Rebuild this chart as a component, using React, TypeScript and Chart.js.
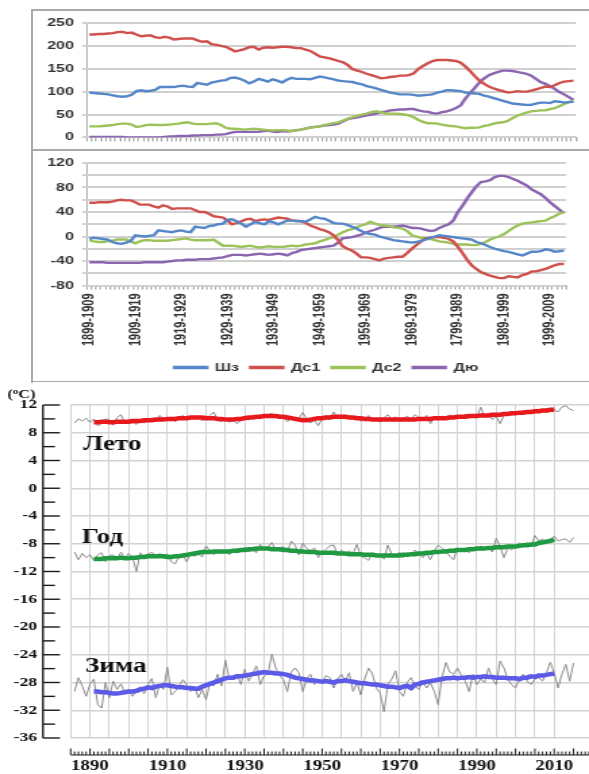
import React, { useEffect, useRef } from 'react';
import { Chart, registerables } from 'chart.js';

Chart.register(...registerables);

// ---------- Upper panels (categories / series) ----------
const CATEGORIES: string[] = Array.from({ length: 104 }, (_, i) => `${1899 + i}-${1909 + i}`);
const TICK_LABELS = ['1899-1909', '1909-1919', '1919-1929', '1929-1939', '1939-1949', '1949-1959', '1959-1969', '1969-1979', '1799-1989', '1989-1999', '1999-2009'];
const SERIES_NAMES = ['Шз', 'Дс1', 'Дс2', 'Дю'];

const TOP_SHZ = [98, 97, 96, 95, 94, 92, 90, 89, 90, 93,
  101, 103, 101, 102, 104, 110, 110, 110, 110, 112,
  113, 111, 110, 119, 117, 115, 120, 122, 124, 125,
  130, 131, 128, 124, 118, 122, 128, 125, 122, 127,
  124, 120, 126, 130, 128, 128, 128, 127, 130, 133,
  131, 129, 127, 124, 123, 122, 121, 118, 116, 112,
  110, 107, 104, 101, 98, 96, 94, 94, 94, 93,
  91, 92, 93, 94, 98, 100, 103, 103, 102, 101,
  98, 97, 96, 95, 91, 89, 86, 83, 80, 77,
  74, 73, 72, 71, 71, 74, 76, 76, 75, 79,
  78, 76, 77, 78];
const TOP_DS1 = [225, 225, 226, 226, 227, 228, 230, 231, 228, 229,
  225, 221, 222, 223, 219, 217, 220, 218, 214, 215,
  216, 216, 216, 212, 209, 210, 204, 202, 200, 198,
  193, 188, 190, 193, 197, 198, 192, 196, 197, 196,
  197, 198, 198, 197, 195, 195, 192, 189, 183, 177,
  175, 173, 170, 167, 164, 158, 149, 146, 143, 139,
  136, 133, 129, 130, 132, 133, 135, 135, 136, 140,
  150, 156, 162, 167, 169, 169, 169, 168, 167, 163,
  155, 145, 134, 124, 117, 111, 107, 104, 101, 98,
  99, 101, 100, 100, 102, 105, 108, 111, 110, 114,
  119, 122, 123, 124];
const TOP_DS2 = [24, 24, 24, 25, 26, 27, 29, 30, 30, 28,
  23, 24, 27, 28, 27, 27, 27, 28, 29, 30,
  32, 33, 30, 29, 29, 29, 30, 31, 27, 21,
  19, 19, 18, 17, 18, 19, 18, 17, 16, 15,
  16, 16, 15, 14, 15, 17, 19, 21, 23, 24,
  27, 29, 31, 33, 37, 41, 44, 47, 50, 52,
  55, 57, 55, 52, 52, 52, 51, 50, 48, 44,
  38, 34, 31, 31, 30, 28, 26, 25, 24, 22,
  20, 21, 21, 22, 25, 27, 30, 32, 33, 36,
  42, 47, 51, 54, 57, 58, 59, 59, 62, 64,
  68, 73, 77, 80];
const TOP_DYU = [1, 1, 1, 1, 1, 1, 1, 1, 0, 0,
  0, 0, 0, 0, 0, 0, 1, 2, 2, 3,
  3, 3, 4, 4, 5, 5, 5, 6, 6, 7,
  10, 12, 12, 12, 12, 12, 12, 14, 15, 13,
  12, 14, 13, 14, 16, 17, 19, 22, 23, 24,
  26, 27, 28, 30, 35, 40, 42, 44, 46, 48,
  50, 52, 55, 56, 59, 60, 61, 61, 62, 62,
  59, 57, 56, 53, 52, 55, 57, 60, 64, 70,
  85, 97, 108, 120, 129, 136, 140, 143, 146, 146,
  145, 143, 141, 139, 135, 128, 121, 117, 112, 106,
  99, 94, 88, 82];

const MID_SHZ = [-4, -2, -3, -4, -5, -9, -11, -12, -10, -7,
  2, 1, 0, 1, 2, 10, 9, 8, 7, 9,
  10, 8, 7, 16, 15, 14, 17, 18, 20, 21,
  27, 28, 25, 21, 16, 20, 24, 22, 20, 25,
  23, 20, 23, 26, 26, 25, 25, 24, 28, 32,
  30, 29, 26, 22, 21, 21, 19, 16, 13, 9,
  6, 4, 3, 0, -2, -4, -6, -7, -8, -9,
  -10, -9, -7, -5, -2, 0, 2, 1, 0, -1,
  -2, -3, -4, -5, -9, -11, -14, -17, -20, -22,
  -24, -25, -27, -29, -31, -28, -25, -25, -24, -21,
  -22, -25, -24, -23];
const MID_DS1 = [55, 55, 56, 56, 56, 57, 59, 60, 59, 59,
  56, 52, 52, 52, 49, 47, 51, 49, 45, 46,
  46, 46, 46, 43, 40, 40, 37, 33, 32, 31,
  26, 20, 22, 25, 28, 29, 25, 27, 28, 27,
  29, 31, 30, 29, 26, 26, 25, 22, 18, 15,
  12, 10, 7, 2, -6, -16, -20, -23, -28, -34,
  -34, -35, -37, -39, -36, -35, -34, -33, -33, -27,
  -20, -14, -8, -3, -2, -1, -1, -2, -4, -8,
  -17, -27, -38, -47, -53, -58, -61, -64, -66, -68,
  -68, -65, -66, -67, -63, -61, -57, -57, -55, -53,
  -50, -47, -45, -45];
const MID_DS2 = [-6, -8, -9, -9, -8, -7, -5, -5, -5, -8,
  -11, -8, -6, -6, -7, -7, -7, -7, -6, -5,
  -4, -3, -5, -6, -6, -6, -6, -5, -10, -15,
  -15, -15, -16, -17, -16, -15, -17, -18, -17, -16,
  -17, -17, -17, -16, -15, -16, -15, -13, -12, -11,
  -8, -6, -3, -1, 3, 7, 10, 12, 15, 18,
  20, 24, 21, 19, 18, 17, 15, 14, 13, 9,
  2, 0, -2, -3, -4, -6, -8, -9, -10, -12,
  -13, -13, -13, -14, -14, -12, -9, -5, -2, 0,
  4, 9, 14, 18, 21, 22, 23, 24, 25, 26,
  30, 33, 37, 40];
const MID_DYU = [-42, -42, -42, -42, -43, -43, -43, -43, -43, -43,
  -43, -43, -42, -42, -42, -42, -42, -41, -40, -39,
  -39, -38, -38, -38, -37, -37, -37, -36, -35, -34,
  -32, -30, -30, -30, -31, -30, -29, -28, -29, -30,
  -29, -28, -29, -31, -27, -25, -22, -21, -20, -19,
  -18, -17, -16, -15, -10, -3, -2, -1, 1, 3,
  6, 9, 11, 14, 16, 16, 16, 17, 18, 16,
  14, 14, 13, 11, 9, 10, 14, 17, 20, 26,
  40, 50, 62, 72, 82, 89, 90, 92, 97, 99,
  99, 97, 94, 91, 87, 83, 77, 73, 69, 63,
  56, 50, 44, 38];

// ---------- Temperature panel ----------
const ANNUAL_START = 1886;
const SMOOTH_START = 1891;
const Y_TICKS = [12, 8, 4, 0, -4, -8, -12, -16, -20, -24, -28, -32, -36];
const X_LABEL_YEARS = [1890, 1910, 1930, 1950, 1970, 1990, 2010];
const SEASON_NAMES = ['Лето', 'Год', 'Зима'];

const SUMMER_ANNUAL = [9.4, 10.0, 9.7, 10.1, 9.5, 10.0, 9.0, 9.3, 10.0, 9.9,
  9.1, 10.2, 10.6, 9.4, 9.8, 9.5, 9.2, 9.8, 9.4, 9.7,
  10.1, 9.6, 10.5, 10.0, 9.8, 10.3, 9.6, 10.2, 10.5, 9.9,
  10.1, 10.4, 10.2, 9.7, 10.0, 10.5, 11.0, 9.8, 9.6, 10.0,
  9.5, 9.9, 9.3, 9.9, 10.3, 9.8, 10.5, 10.2, 10.5, 10.3,
  10.6, 10.8, 10.2, 10.5, 10.1, 9.6, 10.2, 9.8, 10.1, 10.9,
  10.0, 9.4, 9.8, 9.0, 10.0, 10.5, 9.9, 11.0, 10.3, 10.1,
  10.6, 10.0, 10.2, 10.4, 9.6, 10.0, 10.5, 9.7, 10.0, 9.5,
  10.2, 10.6, 9.9, 10.3, 9.8, 10.1, 10.4, 9.9, 10.6, 10.2,
  9.8, 10.5, 9.3, 10.3, 10.0, 10.4, 10.0, 10.6, 10.2, 10.5,
  10.0, 10.7, 10.1, 10.6, 10.3, 11.7, 10.2, 10.8, 9.9, 10.4,
  9.3, 10.5, 10.9, 10.6, 11.0, 10.6, 11.2, 10.7, 11.0, 11.3,
  10.8, 11.4, 10.9, 11.2, 11.3, 11.0, 11.7, 11.9, 11.4, 11.2];
const SUMMER_SMOOTH = [9.5, 9.5, 9.6, 9.6, 9.5, 9.5, 9.6, 9.6, 9.6, 9.6,
  9.7, 9.7, 9.7, 9.8, 9.8, 9.8, 9.9, 9.9, 9.9, 10.0,
  10.0, 10.0, 10.1, 10.1, 10.1, 10.2, 10.2, 10.2, 10.2, 10.1,
  10.1, 10.1, 10.0, 10.0, 9.9, 9.9, 9.9, 10.0, 10.0, 10.1,
  10.2, 10.2, 10.3, 10.3, 10.4, 10.4, 10.4, 10.4, 10.3, 10.3,
  10.2, 10.1, 10.0, 9.9, 9.8, 9.8, 9.9, 10.0, 10.1, 10.1,
  10.2, 10.2, 10.3, 10.3, 10.3, 10.3, 10.2, 10.2, 10.1, 10.1,
  10.0, 10.0, 9.9, 9.9, 9.9, 9.9, 9.9, 9.9, 9.9, 9.9,
  9.9, 9.9, 9.9, 9.9, 10.0, 10.0, 10.0, 10.0, 10.1, 10.1,
  10.1, 10.1, 10.2, 10.2, 10.3, 10.3, 10.3, 10.4, 10.4, 10.4,
  10.5, 10.5, 10.5, 10.6, 10.6, 10.6, 10.7, 10.7, 10.8, 10.8,
  10.9, 10.9, 11.0, 11.0, 11.1, 11.1, 11.2, 11.2, 11.3, 11.3];

const YEAR_ANNUAL = [-9.2, -10.3, -9.4, -10.0, -9.6, -10.4, -9.6, -9.3, -10.6, -9.7,
  -9.6, -10.2, -9.2, -10.1, -9.4, -10.0, -12.0, -9.3, -9.9, -9.5,
  -9.2, -9.8, -9.4, -9.7, -9.5, -10.6, -10.9, -9.8, -9.6, -10.6,
  -9.4, -9.8, -9.5, -9.9, -8.3, -9.0, -9.6, -9.1, -9.4, -8.9,
  -9.6, -9.0, -9.3, -9.1, -8.5, -9.2, -8.7, -9.3, -8.1, -8.8,
  -8.5, -7.8, -9.0, -8.6, -8.4, -9.2, -7.6, -8.2, -9.6, -7.9,
  -8.7, -9.0, -8.6, -10.0, -9.2, -8.8, -8.3, -8.2, -9.5, -8.9,
  -9.6, -9.0, -9.4, -8.1, -9.8, -10.0, -10.4, -9.3, -9.6, -9.8,
  -10.2, -8.2, -9.5, -9.8, -9.2, -10.0, -9.3, -9.6, -8.9, -9.5,
  -10.0, -9.4, -10.3, -9.0, -8.2, -8.6, -9.1, -9.8, -10.3, -8.6,
  -9.0, -8.7, -9.3, -8.6, -9.0, -8.3, -8.9, -8.5, -9.2, -7.2,
  -8.4, -10.0, -8.6, -8.9, -8.3, -7.9, -8.2, -7.8, -8.4, -6.8,
  -7.6, -7.3, -7.9, -7.4, -6.9, -7.6, -7.4, -7.3, -7.8, -7.1];
const YEAR_SMOOTH = [-10.2, -10.2, -10.2, -10.1, -10.1, -10.1, -10.1, -10.0, -10.1, -10.1,
  -10.0, -10.0, -9.9, -9.9, -9.8, -9.8, -9.8, -9.8, -9.8, -9.9,
  -9.9, -9.8, -9.8, -9.7, -9.6, -9.5, -9.4, -9.3, -9.2, -9.2,
  -9.2, -9.1, -9.1, -9.1, -9.1, -9.1, -9.0, -9.0, -8.9, -8.9,
  -8.8, -8.8, -8.7, -8.7, -8.7, -8.7, -8.8, -8.8, -8.8, -8.9,
  -8.9, -9.0, -9.0, -9.1, -9.1, -9.2, -9.2, -9.2, -9.3, -9.3,
  -9.3, -9.3, -9.3, -9.4, -9.4, -9.4, -9.5, -9.5, -9.5, -9.5,
  -9.6, -9.6, -9.6, -9.7, -9.7, -9.7, -9.7, -9.7, -9.7, -9.7,
  -9.6, -9.6, -9.5, -9.5, -9.4, -9.4, -9.3, -9.3, -9.2, -9.2,
  -9.1, -9.1, -9.0, -9.0, -8.9, -8.9, -8.9, -8.8, -8.8, -8.7,
  -8.7, -8.7, -8.6, -8.6, -8.5, -8.5, -8.5, -8.4, -8.4, -8.4,
  -8.3, -8.2, -8.2, -8.1, -8.1, -7.9, -7.8, -7.7, -7.6, -7.4];

const WINTER_ANNUAL = [-29.3, -27.3, -28.5, -30.0, -28.2, -27.5, -31.2, -31.7, -28.0, -30.2,
  -27.8, -29.0, -28.2, -29.5, -29.0, -30.0, -29.2, -28.6, -29.6, -28.3,
  -27.4, -30.2, -28.3, -29.0, -25.8, -29.8, -29.3, -28.5, -27.6, -28.3,
  -29.3, -28.5, -30.2, -29.0, -30.5, -28.0, -28.5, -26.8, -28.5, -24.8,
  -27.6, -27.2, -26.8, -28.3, -26.1, -27.8, -26.8, -25.6, -28.3, -27.0,
  -26.8, -23.9, -25.9, -27.0, -27.6, -29.3, -26.5, -25.9, -26.6, -29.3,
  -27.5, -26.8, -28.3, -27.6, -28.0, -27.0, -27.3, -28.8, -27.5, -26.8,
  -27.8, -26.6, -29.3, -28.0, -29.8, -27.5, -25.9, -26.8, -28.8, -29.5,
  -32.2, -28.3, -27.5, -26.3, -29.3, -30.0, -28.0, -27.3, -28.5, -29.0,
  -27.8, -28.8, -28.0, -29.3, -31.2, -27.3, -25.1, -26.5, -26.8, -25.9,
  -27.0, -27.8, -29.3, -26.8, -28.3, -27.5, -28.0, -25.9, -27.5, -28.3,
  -24.9, -25.9, -27.5, -28.3, -28.8, -27.5, -26.8, -27.8, -28.3, -27.5,
  -27.3, -27.8, -26.6, -25.1, -26.6, -28.8, -26.8, -25.4, -27.8, -25.2];
const WINTER_SMOOTH = [-29.3, -29.3, -29.4, -29.4, -29.5, -29.6, -29.6, -29.5, -29.4, -29.3,
  -29.3, -29.2, -29.0, -28.9, -28.7, -28.8, -28.6, -28.5, -28.4, -28.4,
  -28.5, -28.6, -28.7, -28.7, -28.8, -28.8, -28.9, -28.9, -28.6, -28.4,
  -28.2, -28.0, -27.8, -27.6, -27.4, -27.3, -27.3, -27.1, -27.1, -27.0,
  -26.9, -26.8, -26.7, -26.6, -26.5, -26.6, -26.6, -26.7, -26.7, -26.8,
  -26.9, -27.1, -27.3, -27.4, -27.5, -27.6, -27.7, -27.7, -27.8, -27.9,
  -27.8, -27.9, -28.0, -27.8, -27.8, -27.7, -27.8, -27.9, -28.0, -28.1,
  -28.1, -28.2, -28.3, -28.3, -28.4, -28.5, -28.6, -28.6, -28.7, -28.8,
  -28.6, -28.5, -28.8, -28.3, -28.2, -28.0, -27.9, -27.8, -27.7, -27.6,
  -27.5, -27.4, -27.4, -27.3, -27.4, -27.3, -27.3, -27.2, -27.3, -27.2,
  -27.2, -27.1, -27.2, -27.2, -27.3, -27.3, -27.3, -27.4, -27.4, -27.4,
  -27.5, -27.3, -27.3, -27.1, -27.2, -27.0, -27.0, -26.9, -26.8, -26.7];

// ---------- Styling ----------
const SANS = "'Liberation Sans', Arial, sans-serif";
const SERIF = "'Liberation Serif', 'Times New Roman', serif";
const PAGE_W = 589;
const SERIES_COLORS = ['#5587c8', '#cf504c', '#9dc25a', '#8a65b0'];
const SEASON_COLORS = ['#e8191c', '#1f9a42', '#5b5be8'];
const ANNUAL_COLOR = '#8c8c8c';
const GRID_COLOR = '#d0d0d0';
const LABEL_ANCHORS = [{ x: 1888.2, y: 5.5 }, { x: 1887.9, y: -7.9 }, { x: 1888.7, y: -26.5 }];

function lineDs(label: string, data: any[], color: string, width: number) {
  return {
    label, data, borderColor: color, backgroundColor: color, borderWidth: width,
    pointRadius: 0, pointHoverRadius: 0, tension: 0, fill: false,
  };
}

const axisFont = { family: SANS, size: 11, weight: 'bold' as const };

function panelDatasets(sets: number[][]) {
  return sets.map((d, i) => lineDs(SERIES_NAMES[i], d, SERIES_COLORS[i], 2.4));
}

// Horizontal value grid for the upper panels, drawn from the y scale's own ticks
const valueGridPlugin = {
  id: 'valueGrid',
  beforeDatasetsDraw(chart: any) {
    const { ctx, chartArea } = chart;
    const ys = chart.scales.y;
    ctx.save();
    ctx.strokeStyle = GRID_COLOR;
    ctx.lineWidth = 2;
    ys.ticks.forEach((t: any) => {
      const py = Math.round(ys.getPixelForValue(t.value));
      ctx.beginPath();
      ctx.moveTo(chartArea.left - 3, py);
      ctx.lineTo(chartArea.right, py);
      ctx.stroke();
    });
    ctx.restore();
  },
};

function topConfig(): any {
  return {
    type: 'line',
    data: { labels: CATEGORIES, datasets: panelDatasets([TOP_SHZ, TOP_DS1, TOP_DS2, TOP_DYU]) },
    options: {
      responsive: false, animation: false, devicePixelRatio: 1, events: [],
      layout: { padding: { left: 0, right: 9, top: 23, bottom: 0 } },
      plugins: { legend: { display: false }, tooltip: { enabled: false } },
      scales: {
        x: {
          type: 'category', offset: true,
          grid: { drawOnChartArea: false, drawTicks: true, tickLength: 4, color: '#a6a6a6', offset: true },
          border: { color: '#a6a6a6' },
          ticks: { display: false, autoSkip: false },
          afterFit: (s: any) => { s.height = 8; },
        },
        y: {
          type: 'linear', min: 0, max: 250,
          ticks: { stepSize: 50, autoSkip: false, font: axisFont, color: '#333', padding: 6 },
          grid: { display: true, drawOnChartArea: false, color: GRID_COLOR, lineWidth: 1, tickLength: 3 },
          border: { color: '#b0b0b0' },
          afterFit: (s: any) => { s.width = 59.5; },
        },
      },
    },
    plugins: [valueGridPlugin],
  };
}

function midConfig(): any {
  return {
    type: 'line',
    data: { labels: CATEGORIES, datasets: panelDatasets([MID_SHZ, MID_DS1, MID_DS2, MID_DYU]) },
    options: {
      responsive: false, animation: false, devicePixelRatio: 1, events: [],
      layout: { padding: { left: 0, right: 9, top: 13, bottom: 0 } },
      plugins: {
        tooltip: { enabled: false },
        legend: {
          display: true, position: 'bottom', align: 'center', fullSize: false,
          labels: { boxWidth: 22, boxHeight: 1, padding: 8, font: axisFont, color: '#333' },
        },
      },
      scales: {
        x: {
          type: 'category', offset: true,
          grid: { drawOnChartArea: false, drawTicks: true, tickLength: 4, color: '#a6a6a6', offset: true },
          border: { color: '#a6a6a6' },
          ticks: {
            autoSkip: false, maxRotation: 90, minRotation: 90, padding: 4, font: axisFont, color: '#333',
            callback: (_v: any, i: number) => (i % 10 === 0 && TICK_LABELS[i / 10] ? TICK_LABELS[i / 10] : ''),
          },
          afterFit: (s: any) => { s.height = 68.5; },
        },
        y: {
          type: 'linear', min: -80, max: 120,
          ticks: {
            stepSize: 20, autoSkip: false, font: axisFont, color: '#333', padding: 6,
            callback: (v: number) => (Math.round(v) % 40 === 0 ? String(Math.round(v)) : ''),
          },
          grid: { display: true, drawOnChartArea: false, color: GRID_COLOR, lineWidth: 1, tickLength: 3 },
          border: { color: '#b0b0b0' },
          afterFit: (s: any) => { s.width = 59.5; },
        },
      },
    },
    plugins: [valueGridPlugin],
  };
}

const toPoints = (start: number, vals: number[]) => vals.map((v, i) => ({ x: start + i, y: v }));

const tempAxesPlugin = {
  id: 'tempAxes',
  afterDraw(chart: any) {
    const { ctx } = chart;
    const xs = chart.scales.x;
    const ys = chart.scales.y;
    ctx.save();
    ctx.strokeStyle = '#1a1a1a';
    ctx.fillStyle = '#111';
    // left axis
    const axX = 31.8;
    ctx.lineWidth = 1.4;
    ctx.beginPath();
    ctx.moveTo(axX, ys.getPixelForValue(Y_TICKS[0]));
    ctx.lineTo(axX, ys.getPixelForValue(Y_TICKS[Y_TICKS.length - 1]));
    ctx.stroke();
    Y_TICKS.forEach((v, i) => {
      const py = ys.getPixelForValue(v);
      ctx.beginPath(); ctx.moveTo(axX, py); ctx.lineTo(44.4, py); ctx.stroke();
      if (i < Y_TICKS.length - 1) {
        const pm = ys.getPixelForValue((v + Y_TICKS[i + 1]) / 2);
        ctx.beginPath(); ctx.moveTo(axX, pm); ctx.lineTo(40.7, pm); ctx.stroke();
      }
    });
    ctx.font = `bold 13px ${SERIF}`;
    ctx.textAlign = 'right';
    ctx.textBaseline = 'middle';
    Y_TICKS.forEach((v) => ctx.fillText(String(v), 27.4, ys.getPixelForValue(v)));

    // unit label (oC)
    ctx.textAlign = 'left';
    ctx.textBaseline = 'alphabetic';
    let ux = 5.5;
    const uy = 15;
    ctx.font = `bold 12px ${SERIF}`;
    ctx.fillText('(', ux, uy); ux += ctx.measureText('(').width;
    ctx.font = `bold 8px ${SERIF}`;
    ctx.fillText('o', ux, uy - 4); ux += ctx.measureText('o').width;
    ctx.font = `bold 12px ${SERIF}`;
    ctx.fillText('C)', ux, uy);

    // bottom ruler axis
    const ry = chart.height - 19;
    const first = Math.ceil(xs.min);
    const last = Math.floor(xs.max);
    ctx.lineWidth = 1.2;
    ctx.beginPath();
    ctx.moveTo(xs.getPixelForValue(xs.min), ry);
    ctx.lineTo(chart.width, ry);
    ctx.stroke();
    ctx.lineWidth = 1;
    for (let yr = first; yr <= last; yr++) {
      const px = xs.getPixelForValue(yr);
      const len = yr % 5 === 0 ? 6.5 : 3.5;
      ctx.beginPath(); ctx.moveTo(px, ry); ctx.lineTo(px, ry - len); ctx.stroke();
    }
    ctx.font = `bold 14px ${SERIF}`;
    ctx.textAlign = 'center';
    ctx.textBaseline = 'middle';
    X_LABEL_YEARS.forEach((yr) => ctx.fillText(String(yr), xs.getPixelForValue(yr), ry + 11));

    // season names
    ctx.font = `bold 20px ${SERIF}`;
    ctx.textAlign = 'left';
    ctx.textBaseline = 'alphabetic';
    SEASON_NAMES.forEach((name, i) => {
      ctx.fillText(name, xs.getPixelForValue(LABEL_ANCHORS[i].x), ys.getPixelForValue(LABEL_ANCHORS[i].y));
    });
    ctx.restore();
  },
};

function tempConfig(): any {
  return {
    type: 'line',
    data: {
      datasets: [
        lineDs('Лето (сглаж.)', toPoints(SMOOTH_START, SUMMER_SMOOTH), SEASON_COLORS[0], 4.5),
        lineDs('Год (сглаж.)', toPoints(SMOOTH_START, YEAR_SMOOTH), SEASON_COLORS[1], 4.5),
        lineDs('Зима (сглаж.)', toPoints(SMOOTH_START, WINTER_SMOOTH), SEASON_COLORS[2], 4.5),
        lineDs('Лето', toPoints(ANNUAL_START, SUMMER_ANNUAL), ANNUAL_COLOR, 1),
        lineDs('Год', toPoints(ANNUAL_START, YEAR_ANNUAL), ANNUAL_COLOR, 1),
        lineDs('Зима', toPoints(ANNUAL_START, WINTER_ANNUAL), ANNUAL_COLOR, 1),
      ],
    },
    options: {
      responsive: false, animation: false, devicePixelRatio: 1, events: [],
      layout: { padding: { left: 0, right: 0, top: 22, bottom: 0 } },
      plugins: { legend: { display: false }, tooltip: { enabled: false } },
      scales: {
        x: {
          type: 'linear', min: 1885, max: 2019,
          ticks: { display: false, stepSize: 5, autoSkip: false },
          grid: { color: '#d2d2d2', drawTicks: false },
          border: { display: false },
          afterBuildTicks: (s: any) => { s.ticks = s.ticks.filter((t: any) => t.value % 5 === 0); },
          afterFit: (s: any) => { s.height = 36; },
        },
        y: {
          min: -36, max: 12,
          ticks: { display: false, stepSize: 4, autoSkip: false },
          grid: { color: '#d2d2d2', lineWidth: 1.5, drawTicks: false },
          border: { display: false },
          afterFit: (s: any) => { s.width = 52.3; },
        },
      },
    },
    plugins: [tempAxesPlugin],
  };
}

function StretchedChart({ build, w, h, top }: { build: () => any; w: number; h: number; top: number }) {
  const ref = useRef<HTMLCanvasElement | null>(null);
  useEffect(() => {
    const chart = new Chart(ref.current as HTMLCanvasElement, build());
    return () => chart.destroy();
  }, [build]);
  return (
    <canvas
      ref={ref}
      width={w}
      height={h}
      style={{ position: 'absolute', left: 0, top, width: PAGE_W, height: h, display: 'block' }}
    />
  );
}

const lineStyle = (left: number, top: number, width: number, height: number): React.CSSProperties => ({
  position: 'absolute', left, top, width, height, background: '#a9a9a9',
});

export default function App() {
  return (
    <div style={{ position: 'absolute', left: 0, top: 0, width: PAGE_W, height: 774, background: '#fff', overflow: 'hidden' }}>
      <StretchedChart build={topConfig} w={403} h={150} top={0} />
      <StretchedChart build={midConfig} w={403} h={233} top={150} />
      <StretchedChart build={tempConfig} w={436} h={391} top={383} />
      <div style={lineStyle(31, 9, PAGE_W - 31, 2)} />
      <div style={lineStyle(31, 9, 2, 374)} />
      <div style={lineStyle(31, 149, PAGE_W - 31, 2)} />
      <div style={lineStyle(31, 381, PAGE_W - 31, 1)} />
    </div>
  );
}
